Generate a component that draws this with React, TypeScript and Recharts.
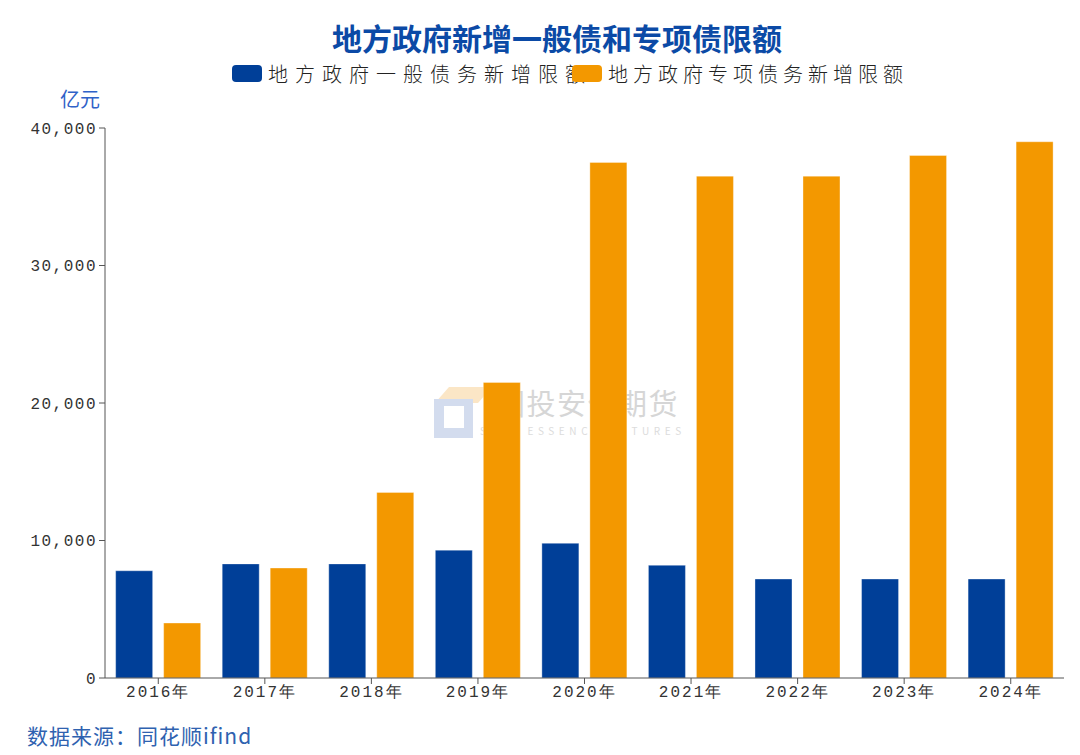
import { BarChart, Bar, XAxis, YAxis } from 'recharts'

const years = ['2016年', '2017年', '2018年', '2019年', '2020年', '2021年', '2022年', '2023年', '2024年']
const generalDebt = [7800, 8300, 8300, 9300, 9800, 8200, 7200, 7200, 7200]
const specialDebt = [4000, 8000, 13500, 21500, 37500, 36500, 36500, 38000, 39000]
const yTicks = [0, 10000, 20000, 30000, 40000]

const BLUE = '#003f98'
const ORANGE = '#f39800'
const MONO = '"Liberation Mono", "DejaVu Sans Mono", monospace'
const CJK = '"Noto Sans CJK SC", "Noto Sans", sans-serif'

const data = years.map((year, i) => ({ year, general: generalDebt[i], special: specialDebt[i] }))

function Watermark() {
  return (
    <div style={{ position: 'absolute', left: 430, top: 380, width: 275, height: 70, zIndex: 0 }}>
      <svg width={62} height={62} style={{ position: 'absolute', left: 0, top: 2 }}>
        <polygon points="19,5 62,5 48,21 5,21" fill="#fbe6c6" />
        <path d="M4,17 H43 V56 H4 Z M14,24 V46 H34 V24 Z" fill="#d3dcee" fillRule="evenodd" />
      </svg>
      <div style={{ position: 'absolute', left: 66, top: 1, fontFamily: CJK, fontSize: 29, color: '#d6d6d6', letterSpacing: 1.5 }}>
        国投安信期货
      </div>
      <div style={{ position: 'absolute', left: 50, top: 43, fontFamily: CJK, fontSize: 10, color: '#dcdcdc', letterSpacing: 4.6 }}>
        SDIC ESSENCE FUTURES
      </div>
    </div>
  )
}

function LegendItem({ color, label, left, spacing }: { color: string; label: string; left: number; spacing: number }) {
  return (
    <div style={{ position: 'absolute', left, top: 59, display: 'flex', alignItems: 'center', whiteSpace: 'nowrap' }}>
      <div style={{ width: 30, height: 17, borderRadius: 4, background: color, marginRight: 6, position: 'relative', zIndex: 3 }} />
      <span style={{ fontFamily: CJK, fontSize: 20, color: '#222', letterSpacing: spacing, fontWeight: 300 }}>{label}</span>
    </div>
  )
}

export default function App() {
  return (
    <div style={{ position: 'absolute', left: 0, top: 0, width: 1080, height: 755, background: '#fff', overflow: 'hidden' }}>
      <Watermark />
      <div style={{ position: 'absolute', left: 0, top: 0, zIndex: 1 }}>
        <BarChart
          width={1080}
          height={755}
          data={data}
          margin={{ top: 128, right: 16, bottom: 47, left: 0 }}
          barCategoryGap="10%"
          barGap={11}
        >
          <XAxis
            dataKey="year"
            height={30}
            stroke="#555"
            tickSize={6}
            tick={{ fill: '#333', fontSize: 16, fontFamily: MONO, letterSpacing: 2 }}
            interval={0}
          />
          <YAxis
            width={105}
            domain={[0, 40000]}
            ticks={yTicks}
            stroke="#555"
            tickSize={6}
            tickFormatter={(v: number) => v.toLocaleString('en-US')}
            tick={{ fill: '#333', fontSize: 16, fontFamily: MONO, letterSpacing: 1.5 }}
          />
          <Bar dataKey="general" fill={BLUE} stroke="rgba(255,255,255,0.35)" strokeWidth={1} isAnimationActive={false} />
          <Bar dataKey="special" fill={ORANGE} stroke="rgba(255,255,255,0.35)" strokeWidth={1} isAnimationActive={false} />
        </BarChart>
      </div>
      <div style={{ position: 'absolute', left: 0, top: 15, width: 1114, textAlign: 'center', fontFamily: CJK, fontSize: 30, fontWeight: 700, color: '#0b4aa6', zIndex: 2 }}>
        地方政府新增一般债和专项债限额
      </div>
      <div style={{ zIndex: 2, position: 'absolute', left: 0, top: 0 }}>
        <LegendItem color={BLUE} label="地方政府一般债务新增限额" left={232} spacing={7} />
        <LegendItem color={ORANGE} label="地方政府专项债务新增限额" left={572} spacing={5} />
      </div>
      <div style={{ position: 'absolute', left: 60, top: 84, fontFamily: CJK, fontSize: 20, color: '#2f62c8', zIndex: 2 }}>
        亿元
      </div>
      <div style={{ position: 'absolute', left: 27, top: 720, fontFamily: CJK, fontSize: 21, color: '#2f62b0', letterSpacing: 1, zIndex: 2 }}>
        数据来源：同花顺ifind
      </div>
    </div>
  )
}
